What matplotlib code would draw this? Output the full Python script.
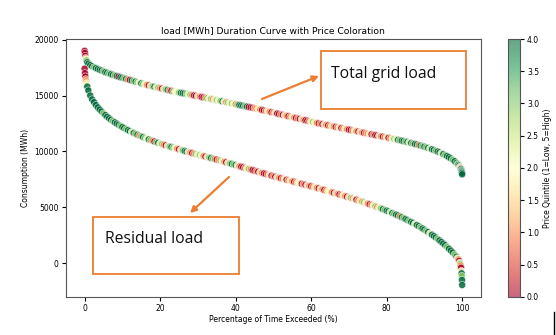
import numpy as np
import matplotlib.pyplot as plt
from matplotlib.patches import Rectangle
from matplotlib.lines import Line2D
from matplotlib.colors import Normalize

# 数据：负荷持续曲线（超越时间百分比）
pct = [0, 0.1, 0.2, 0.3, 0.4, 0.5, 0.7, 1,
       1.5, 2, 2.5, 3, 3.5, 4, 4.5, 5,
       5.5, 6, 6.5, 7, 7.5, 8, 8.5, 9, 9.5, 10,
       10.5, 11, 11.5, 12, 12.5, 13, 13.5, 14, 14.5, 15,
       15.5, 16, 16.5, 17, 17.5, 18, 18.5, 19, 19.5, 20,
       20.5, 21, 21.5, 22, 22.5, 23, 23.5, 24, 24.5, 25,
       25.5, 26, 26.5, 27, 27.5, 28, 28.5, 29, 29.5, 30,
       30.5, 31, 31.5, 32, 32.5, 33, 33.5, 34, 34.5, 35,
       35.5, 36, 36.5, 37, 37.5, 38, 38.5, 39, 39.5, 40,
       40.5, 41, 41.5, 42, 42.5, 43, 43.5, 44, 44.5, 45,
       45.5, 46, 46.5, 47, 47.5, 48, 48.5, 49, 49.5, 50,
       50.5, 51, 51.5, 52, 52.5, 53, 53.5, 54, 54.5, 55,
       55.5, 56, 56.5, 57, 57.5, 58, 58.5, 59, 59.5, 60,
       60.5, 61, 61.5, 62, 62.5, 63, 63.5, 64, 64.5, 65,
       65.5, 66, 66.5, 67, 67.5, 68, 68.5, 69, 69.5, 70,
       70.5, 71, 71.5, 72, 72.5, 73, 73.5, 74, 74.5, 75,
       75.5, 76, 76.5, 77, 77.5, 78, 78.5, 79, 79.5, 80,
       80.5, 81, 81.5, 82, 82.5, 83, 83.5, 84, 84.5, 85,
       85.5, 86, 86.5, 87, 87.5, 88, 88.5, 89, 89.5, 90,
       90.5, 91, 91.5, 92, 92.5, 93, 93.5, 94, 94.5, 95,
       95.5, 96, 96.5, 97, 97.5, 98, 98.5,
       98.8, 99, 99.2, 99.4, 99.5, 99.6, 99.7, 99.8, 99.85, 99.9, 99.95, 100]

total_load = [19000, 18800, 18550, 18350, 18250, 18150, 17980, 17850,
              17720, 17620, 17530, 17450, 17370, 17300, 17230, 17160,
              17090, 17030, 16970, 16910, 16850, 16800, 16740, 16690, 16640, 16590,
              16540, 16490, 16440, 16390, 16340, 16290, 16240, 16190, 16140, 16090,
              16040, 16000, 15950, 15910, 15860, 15820, 15780, 15740, 15700, 15660,
              15620, 15580, 15540, 15500, 15460, 15420, 15380, 15340, 15300, 15270,
              15240, 15210, 15180, 15150, 15115, 15080, 15045, 15010, 14975, 14940,
              14905, 14870, 14835, 14800, 14765, 14730, 14695, 14660, 14625, 14590,
              14555, 14520, 14485, 14450, 14410, 14370, 14330, 14290, 14255, 14220,
              14185, 14150, 14115, 14080, 14045, 14010, 13975, 13940, 13905, 13870,
              13830, 13790, 13750, 13710, 13670, 13630, 13590, 13550, 13510, 13470,
              13430, 13390, 13350, 13310, 13270, 13230, 13190, 13150, 13110, 13070,
              13030, 12990, 12950, 12910, 12870, 12830, 12790, 12750, 12710, 12670,
              12630, 12590, 12550, 12510, 12475, 12440, 12405, 12370, 12335, 12300,
              12265, 12230, 12195, 12160, 12125, 12090, 12055, 12020, 11985, 11950,
              11915, 11880, 11845, 11810, 11775, 11740, 11705, 11670, 11635, 11600,
              11565, 11530, 11495, 11460, 11425, 11390, 11355, 11320, 11285, 11250,
              11215, 11180, 11145, 11110, 11075, 11040, 11000, 10960, 10920, 10880,
              10840, 10800, 10755, 10710, 10665, 10620, 10570, 10520, 10470, 10420,
              10365, 10310, 10250, 10190, 10125, 10060, 9990, 9920, 9840, 9760,
              9670, 9580, 9480, 9370, 9250, 9120, 8970,
              8870, 8800, 8720, 8620, 8560, 8490, 8420, 8320, 8260, 8180, 8080, 7950]

residual_load = [17400, 17000, 16700, 16450, 16270, 16100, 15800, 15450,
                 15000, 14650, 14400, 14150, 13940, 13750, 13570, 13400,
                 13250, 13100, 12960, 12830, 12710, 12600, 12490, 12380, 12280, 12180,
                 12080, 11990, 11900, 11810, 11730, 11650, 11570, 11490, 11420, 11350,
                 11280, 11210, 11140, 11070, 11010, 10950, 10890, 10830, 10770, 10710,
                 10655, 10600, 10545, 10490, 10440, 10390, 10340, 10290, 10240, 10190,
                 10140, 10090, 10040, 9990, 9945, 9900, 9855, 9810, 9765, 9720,
                 9675, 9630, 9585, 9540, 9495, 9450, 9405, 9360, 9315, 9270,
                 9225, 9180, 9130, 9080, 9030, 8980, 8930, 8880, 8830, 8780,
                 8730, 8680, 8630, 8580, 8530, 8480, 8430, 8380, 8330, 8280,
                 8230, 8180, 8130, 8080, 8030, 7980, 7930, 7880, 7830, 7780,
                 7735, 7690, 7645, 7600, 7555, 7510, 7465, 7420, 7375, 7330,
                 7285, 7240, 7195, 7150, 7105, 7060, 7015, 6970, 6925, 6880,
                 6835, 6790, 6745, 6700, 6650, 6600, 6550, 6500, 6450, 6400,
                 6350, 6300, 6250, 6200, 6150, 6100, 6050, 6000, 5950, 5900,
                 5845, 5790, 5735, 5680, 5625, 5570, 5510, 5450, 5390, 5330,
                 5270, 5210, 5150, 5090, 5025, 4960, 4895, 4830, 4765, 4700,
                 4630, 4560, 4490, 4420, 4345, 4270, 4190, 4110, 4030, 3950,
                 3865, 3780, 3690, 3600, 3505, 3410, 3310, 3210, 3105, 3000,
                 2890, 2780, 2665, 2550, 2425, 2300, 2170, 2040, 1900, 1760,
                 1610, 1460, 1300, 1130, 960, 780, 580,
                 440, 350, 210, 40, -50, -200, -400, -700, -900, -1150, -1500, -1950]

# 价格五分位（0=红, 4=绿）
total_quintile = [0, 0, 0, 1, 2, 3, 4, 4,
                  4, 4, 3, 4, 4, 4, 4, 3,
                  4, 4, 3, 4, 4, 3, 4, 0, 4, 4,
                  3, 4, 1, 0, 4, 3, 4, 3, 2, 4,
                  3, 2, 1, 0, 2, 3, 4, 2, 3, 1,
                  0, 2, 3, 4, 1, 0, 3, 2, 2, 3,
                  4, 4, 4, 3, 2, 3, 1, 0, 0, 2,
                  1, 0, 0, 1, 3, 2, 3, 1, 2, 3,
                  2, 3, 4, 2, 1, 3, 2, 3, 2, 1,
                  3, 4, 4, 4, 3, 4, 0, 0, 0, 1,
                  1, 2, 1, 0, 0, 1, 2, 1, 0, 1,
                  2, 0, 0, 1, 0, 2, 1, 0, 1, 2,
                  1, 0, 1, 0, 2, 1, 0, 0, 1, 2,
                  3, 2, 1, 0, 1, 0, 2, 1, 0, 1,
                  2, 1, 0, 1, 2, 0, 1, 2, 1, 0,
                  0, 1, 2, 1, 0, 2, 1, 0, 1, 1,
                  2, 0, 1, 0, 0, 2, 1, 0, 1, 2,
                  0, 1, 2, 3, 2, 4, 3, 4, 4, 3,
                  4, 2, 4, 3, 4, 4, 1, 4, 3, 4,
                  3, 4, 2, 4, 4, 3, 4, 4, 2, 4,
                  3, 4, 4, 4, 3, 4, 4,
                  3, 4, 4, 2, 1, 3, 4, 4, 4, 4, 4, 4]

residual_quintile = [0, 0, 0, 1, 1, 2, 4, 4,
                     4, 4, 4, 4, 4, 4, 4, 3,
                     4, 4, 4, 4, 3, 4, 4, 4, 3, 4,
                     4, 3, 4, 4, 2, 4, 3, 4, 1, 3,
                     4, 3, 2, 4, 3, 1, 0, 3, 4, 2,
                     3, 1, 0, 2, 3, 4, 3, 2, 1, 0,
                     2, 3, 4, 4, 2, 1, 0, 1, 3, 2,
                     3, 2, 1, 0, 2, 3, 4, 3, 1, 0,
                     1, 3, 2, 1, 0, 2, 3, 4, 3, 4,
                     2, 1, 0, 0, 1, 2, 3, 1, 0, 0,
                     1, 0, 2, 1, 0, 0, 1, 2, 0, 1,
                     0, 2, 1, 0, 1, 2, 0, 1, 2, 1,
                     0, 1, 2, 2, 0, 1, 0, 2, 1, 0,
                     1, 2, 1, 0, 2, 1, 0, 1, 2, 2,
                     1, 0, 2, 1, 0, 1, 2, 1, 0, 2,
                     3, 1, 2, 0, 1, 2, 1, 3, 2, 1,
                     0, 1, 2, 3, 1, 2, 3, 4, 3, 4,
                     4, 2, 4, 3, 4, 4, 1, 4, 3, 4,
                     4, 3, 4, 4, 2, 4, 4, 3, 4, 4,
                     3, 4, 2, 4, 4, 4, 3, 4, 4, 4,
                     4, 3, 4, 4, 4, 3, 4,
                     2, 1, 0, 2, 3, 1, 0, 2, 4, 3, 4, 4]

# -------------------------- 绘图 --------------------------
fig = plt.figure(figsize=(5.56, 3.35), dpi=100)
ax = fig.add_axes([0.1182, 0.1143, 0.747, 0.769])
cax = fig.add_axes([0.9137, 0.1143, 0.0216, 0.769])

norm = Normalize(vmin=0, vmax=4)
ax.scatter(pct, total_load, c=total_quintile, cmap='RdYlGn', norm=norm,
           s=26, alpha=0.85, edgecolors='white', linewidths=0.4)
ax.scatter(pct, residual_load, c=residual_quintile, cmap='RdYlGn', norm=norm,
           s=26, alpha=0.85, edgecolors='white', linewidths=0.4)
# 色标用的空散点（半透明）
cbar_src = ax.scatter([], [], c=[], cmap='RdYlGn', norm=norm, alpha=0.6)

ax.set_title('load [MWh] Duration Curve with Price Coloration', fontsize=6.6, pad=4)
ax.set_xlabel('Percentage of Time Exceeded (%)', fontsize=5.5, labelpad=2)
ax.set_ylabel('Consumption (MWh)', fontsize=5.5, labelpad=3)
ax.tick_params(labelsize=5.5, length=3, pad=2)
ax.set_xticks([0, 20, 40, 60, 80, 100])
ax.set_yticks([0, 5000, 10000, 15000, 20000])
for sp in ax.spines.values():
    sp.set_color('#555555')

cb = fig.colorbar(cbar_src, cax=cax)
cb.set_ticks(np.arange(0, 4.01, 0.5))
cb.ax.tick_params(labelsize=5.5, length=3, pad=2)
cb.set_label('Price Quintile (1=Low, 5=High)', fontsize=5.5, labelpad=3)
cb.outline.set_edgecolor('#555555')

# 标注框与箭头
orange = '#ED7D31'
fig.add_artist(Rectangle((320.5 / 556, 1 - 109 / 335), 145.5 / 556, 57.5 / 335,
                         transform=fig.transFigure, facecolor='white', edgecolor=orange, lw=1.3))
fig.text(331 / 556, 1 - 74 / 335, 'Total grid load', fontsize=11.3, family='Open Sans',
         va='center', ha='left', color='#111111')
fig.add_artist(Rectangle((93 / 556, 1 - 274 / 335), 146 / 556, 57 / 335,
                         transform=fig.transFigure, facecolor='white', edgecolor=orange, lw=1.3))
fig.text(105 / 556, 1 - 239 / 335, 'Residual load', fontsize=11.3, family='Open Sans',
         va='center', ha='left', color='#111111')

arrow = dict(arrowstyle='-|>', color=orange, lw=1.6, mutation_scale=9, shrinkA=0, shrinkB=0)
ax.annotate('', xy=(319 / 556, 1 - 76 / 335), xytext=(262 / 556, 1 - 99 / 335),
            xycoords='figure fraction', textcoords='figure fraction', arrowprops=arrow)
ax.annotate('', xy=(190 / 556, 1 - 213 / 335), xytext=(229 / 556, 1 - 177 / 335),
            xycoords='figure fraction', textcoords='figure fraction', arrowprops=arrow)

fig.add_artist(Line2D([554 / 556, 554 / 556], [0, 1 - 312 / 335], color='black', lw=1))

plt.savefig('out.png', dpi=100)
plt.close(fig)
